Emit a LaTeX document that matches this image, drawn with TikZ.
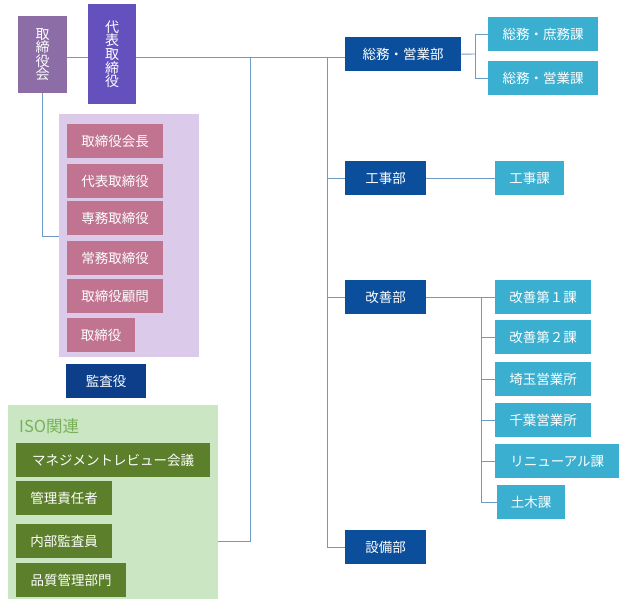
\documentclass[tikz,border=0pt]{standalone}
\usepackage{fontspec}
\setmainfont{Noto Sans CJK JP}
\usepackage{xcolor}

\definecolor{linec}{RGB}{109,155,195}
\definecolor{boardc}{RGB}{140,109,166}
\definecolor{ceoc}{RGB}{100,81,189}
\definecolor{panelc}{RGB}{220,202,234}
\definecolor{rolec}{RGB}{192,116,143}
\definecolor{deptc}{RGB}{11,79,156}
\definecolor{auditc}{RGB}{12,62,138}
\definecolor{sectc}{RGB}{59,175,208}
\definecolor{isoc}{RGB}{203,230,194}
\definecolor{isobox}{RGB}{91,127,42}
\definecolor{isotext}{RGB}{120,177,90}

\begin{document}
\begin{tikzpicture}[x=1pt,y=1pt,yscale=-1,xscale=1,
    box/.style={anchor=north west, inner sep=0pt, text=white, align=center, font=\fontsize{13.5}{15}\selectfont},
    vbox/.style={box, font=\fontsize{14}{13.6}\selectfont},
    dept/.style={box, fill=deptc, minimum height=34},
    sect/.style={box, fill=sectc, minimum height=34},
    role/.style={box, fill=rolec, minimum height=34},
    iso/.style={box, fill=isobox, minimum height=34},
    conn/.style={draw=linec, line width=0.9pt}]
        \useasboundingbox (0,0) rectangle (630,612);
        % Panels
        \node[anchor=north west, inner sep=0pt, fill=panelc, minimum width=140, minimum height=243] (panel) at (59,114) {};
        \node[anchor=north west, inner sep=0pt, fill=isoc, minimum width=210, minimum height=194] (isopanel) at (8,405) {};
        % Board
        \node[vbox, fill=boardc, minimum width=49, minimum height=77] (board) at (18,16) {取\\締\\役\\会};
        \node[vbox, fill=ceoc, minimum width=48, minimum height=100] (ceo) at (88,4) {代\\表\\取\\締\\役};
        % Roles
        \node[role, minimum width=96] (chair) at (67,124) {取締役会長};
        \node[role, minimum width=96] (rep) at (67,164) {代表取締役};
        \node[role, minimum width=96] (senmu) at (67,201) {専務取締役};
        \node[role, minimum width=96] (joumu) at (67,241) {常務取締役};
        \node[role, minimum width=96] (komon) at (67,279) {取締役顧問};
        \node[role, minimum width=68] (director) at (67,318) {取締役};
        \node[box, fill=auditc, minimum width=80, minimum height=34] (audit) at (66,364) {監査役};
        % ISO
        \node[anchor=west, inner sep=0pt, text=isotext, font=\fontsize{16.5}{18}\selectfont] (isotitle) at (19,426) {ISO関連};
        \node[iso, minimum width=194] (review) at (16,443) {マネジメントレビュー会議};
        \node[iso, minimum width=96] (manager) at (16,481) {管理責任者};
        \node[iso, minimum width=96] (auditor) at (16,524) {内部監査員};
        \node[iso, minimum width=110] (quality) at (16,563) {品質管理部門};
        % Departments
        \node[dept, minimum width=116] (somu) at (345,37) {総務・営業部};
        \node[dept, minimum width=81] (kouji) at (345,161) {工事部};
        \node[dept, minimum width=81] (kaizen) at (345,280) {改善部};
        \node[dept, minimum width=81] (setsubi) at (345,530) {設備部};
        % Sections
        \node[sect, minimum width=110] (shomu) at (488,17) {総務・庶務課};
        \node[sect, minimum width=110] (eigyo) at (488,61) {総務・営業課};
        \node[sect, minimum width=69] (koujika) at (495,161) {工事課};
        \node[sect, minimum width=96] (kaizen1) at (495,280) {改善第１課};
        \node[sect, minimum width=96] (kaizen2) at (495,320) {改善第２課};
        \node[sect, minimum width=96] (saitama) at (495,362) {埼玉営業所};
        \node[sect, minimum width=96] (chiba) at (495,403) {千葉営業所};
        \node[sect, minimum width=124] (renewal) at (495,444) {リニューアル課};
        \node[sect, minimum width=68] (doboku) at (497,485) {土木課};
        % Connectors
        \coordinate (busA) at (250,57);
        \coordinate (busB) at (327,57);
        \coordinate (isoj) at (218,541);
        \coordinate (panelj) at (59,236);
        \coordinate (somuj) at (475,54);
        \coordinate (kaizenj) at (481,297);
        \draw[conn] (board.east |- busA) -- (ceo.west |- busA);
        \draw[conn] (ceo.east |- busA) -- (somu.west |- busA);
        \draw[conn] (busA) |- (isoj);
        \draw[conn] (busB) |- (kouji.west);
        \draw[conn] (busB) |- (kaizen.west);
        \draw[conn] (busB) |- (setsubi.west);
        \draw[conn] (board.south) |- (panelj);
        \draw[conn] (somu.east) -- (somuj);
        \draw[conn] (somuj) |- (shomu.west);
        \draw[conn] (somuj) |- (eigyo.west);
        \draw[conn] (kouji.east) -- (koujika.west);
        \draw[conn] (kaizen.east) -- (kaizen1.west);
        \draw[conn] (kaizenj) |- (kaizen2.west);
        \draw[conn] (kaizenj) |- (saitama.west);
        \draw[conn] (kaizenj) |- (chiba.west);
        \draw[conn] (kaizenj) |- (renewal.west);
        \draw[conn] (kaizenj) |- (doboku.west);
    \end{tikzpicture}
\end{document}
